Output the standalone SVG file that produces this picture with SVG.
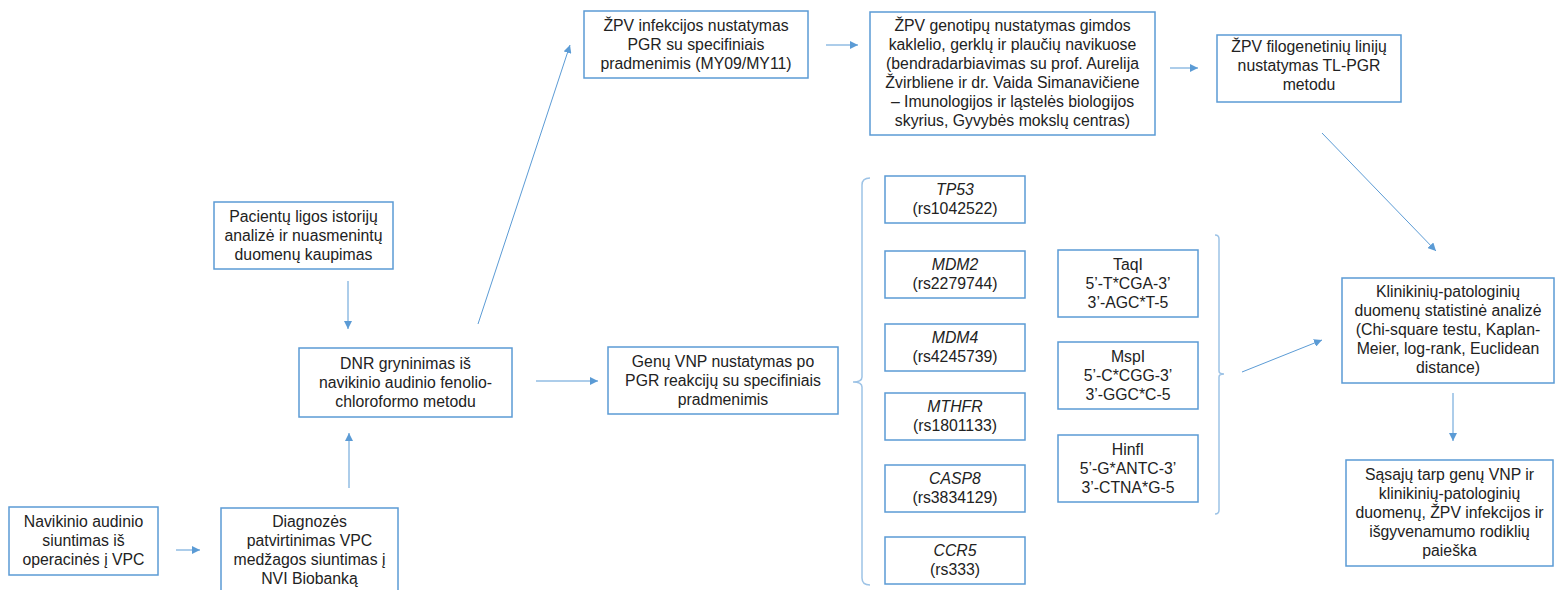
<svg xmlns="http://www.w3.org/2000/svg" width="1559" height="590" viewBox="0 0 1559 590">
<style>
.box{fill:#fff;stroke:#5b9bd5;stroke-width:1.5}
.t{font-family:"Liberation Sans",Arial,sans-serif;font-size:15.8px;fill:#222;text-anchor:middle}
.i{font-style:italic}
.c{fill:none;stroke:#5b9bd5;stroke-width:1}
.br{fill:none;stroke:#9dc3e6;stroke-width:1.5}
</style>
<defs>
<marker id="ah" viewBox="0 0 10 10" refX="10" refY="5" markerWidth="8" markerHeight="8" markerUnits="userSpaceOnUse" orient="auto">
<path d="M0,0 L10,5 L0,10 z" fill="#5b9bd5"/>
</marker>
</defs>
<rect width="1559" height="590" fill="#fff"/>

<g id="connectors">
<line class="c" x1="176" y1="550" x2="200" y2="550" marker-end="url(#ah)"/>
<line class="c" x1="349" y1="488" x2="349" y2="433" marker-end="url(#ah)"/>
<line class="c" x1="348" y1="281" x2="348" y2="329" marker-end="url(#ah)"/>
<line class="c" x1="478" y1="324" x2="570" y2="45" marker-end="url(#ah)"/>
<line class="c" x1="536" y1="381" x2="598" y2="381" marker-end="url(#ah)"/>
<line class="c" x1="826" y1="45" x2="858" y2="45" marker-end="url(#ah)"/>
<line class="c" x1="1170" y1="68" x2="1198" y2="68" marker-end="url(#ah)"/>
<line class="c" x1="1322" y1="133" x2="1436" y2="251" marker-end="url(#ah)"/>
<line class="c" x1="1242" y1="372" x2="1322" y2="340" marker-end="url(#ah)"/>
<line class="c" x1="1453" y1="393" x2="1453" y2="441" marker-end="url(#ah)"/>
<path class="br" d="M870,178 Q862,178 862,185 L862,377 Q862,382 853,382 Q862,382 862,387 L862,578 Q862,585 870,585"/>
<path class="br" d="M1215,235 Q1219,235 1219,239 L1219,371 Q1219,374 1224,374 Q1219,374 1219,377 L1219,510 Q1219,514 1215,514"/>
</g>

<g id="n1"><rect class="box" x="9" y="507" width="149" height="68"/>
<text class="t"><tspan x="83.5" y="527">Navikinio audinio</tspan><tspan x="83.5" y="546">siuntimas iš</tspan><tspan x="83.5" y="565">operacinės į VPC</tspan></text></g>

<g id="n2"><rect class="box" x="221" y="508" width="177" height="92"/>
<text class="t"><tspan x="309.5" y="527">Diagnozės</tspan><tspan x="309.5" y="546">patvirtinimas VPC</tspan><tspan x="309.5" y="565">medžagos siuntimas į</tspan><tspan x="309.5" y="584">NVI Biobanką</tspan></text></g>

<g id="n3"><rect class="box" x="214" y="202" width="179" height="67"/>
<text class="t"><tspan x="303.5" y="222">Pacientų ligos istorijų</tspan><tspan x="303.5" y="241">analizė ir nuasmenintų</tspan><tspan x="303.5" y="260">duomenų kaupimas</tspan></text></g>

<g id="n4"><rect class="box" x="299" y="348" width="213" height="69"/>
<text class="t"><tspan x="405.5" y="369">DNR gryninimas iš</tspan><tspan x="405.5" y="388">navikinio audinio fenolio-</tspan><tspan x="405.5" y="407">chloroformo metodu</tspan></text></g>

<g id="n5"><rect class="box" x="584" y="11" width="224" height="67"/>
<text class="t"><tspan x="696" y="31">ŽPV infekcijos nustatymas</tspan><tspan x="696" y="50">PGR su specifiniais</tspan><tspan x="696" y="69">pradmenimis (MY09/MY11)</tspan></text></g>

<g id="n6"><rect class="box" x="870" y="12" width="285" height="123"/>
<text class="t"><tspan x="1012.5" y="31">ŽPV genotipų nustatymas gimdos</tspan><tspan x="1012.5" y="50">kaklelio, gerklų ir plaučių navikuose</tspan><tspan x="1012.5" y="69">(bendradarbiavimas su prof. Aurelija</tspan><tspan x="1012.5" y="88">Žvirbliene ir dr. Vaida Simanavičiene</tspan><tspan x="1012.5" y="107">– Imunologijos ir ląstelės biologijos</tspan><tspan x="1012.5" y="126">skyrius, Gyvybės mokslų centras)</tspan></text></g>

<g id="n7"><rect class="box" x="1217" y="35" width="184" height="67"/>
<text class="t"><tspan x="1309" y="52">ŽPV filogenetinių linijų</tspan><tspan x="1309" y="71">nustatymas TL-PGR</tspan><tspan x="1309" y="90">metodu</tspan></text></g>

<g id="n8"><rect class="box" x="608" y="347" width="230" height="67"/>
<text class="t"><tspan x="723" y="367">Genų VNP nustatymas po</tspan><tspan x="723" y="386">PGR reakcijų su specifiniais</tspan><tspan x="723" y="405">pradmenimis</tspan></text></g>

<g id="g1"><rect class="box" x="885" y="176" width="140" height="47"/>
<text class="t"><tspan class="i" x="955" y="195">TP53</tspan><tspan x="955" y="214">(rs1042522)</tspan></text></g>
<g id="g2"><rect class="box" x="885" y="251" width="140" height="47"/>
<text class="t"><tspan class="i" x="955" y="270">MDM2</tspan><tspan x="955" y="289">(rs2279744)</tspan></text></g>
<g id="g3"><rect class="box" x="885" y="324" width="140" height="47"/>
<text class="t"><tspan class="i" x="955" y="343">MDM4</tspan><tspan x="955" y="362">(rs4245739)</tspan></text></g>
<g id="g4"><rect class="box" x="885" y="393" width="140" height="47"/>
<text class="t"><tspan class="i" x="955" y="412">MTHFR</tspan><tspan x="955" y="431">(rs1801133)</tspan></text></g>
<g id="g5"><rect class="box" x="885" y="465" width="140" height="47"/>
<text class="t"><tspan class="i" x="955" y="484">CASP8</tspan><tspan x="955" y="503">(rs3834129)</tspan></text></g>
<g id="g6"><rect class="box" x="885" y="537" width="140" height="47"/>
<text class="t"><tspan class="i" x="955" y="556">CCR5</tspan><tspan x="955" y="575">(rs333)</tspan></text></g>

<g id="e1"><rect class="box" x="1058" y="250" width="140" height="67"/>
<text class="t"><tspan x="1128" y="270">TaqI</tspan><tspan x="1128" y="289">5’-T*CGA-3’</tspan><tspan x="1128" y="308">3’-AGC*T-5</tspan></text></g>
<g id="e2"><rect class="box" x="1058" y="342" width="140" height="67"/>
<text class="t"><tspan x="1128" y="362">MspI</tspan><tspan x="1128" y="381">5’-C*CGG-3’</tspan><tspan x="1128" y="400">3’-GGC*C-5</tspan></text></g>
<g id="e3"><rect class="box" x="1058" y="435" width="140" height="67"/>
<text class="t"><tspan x="1128" y="455">HinfI</tspan><tspan x="1128" y="474">5’-G*ANTC-3’</tspan><tspan x="1128" y="493">3’-CTNA*G-5</tspan></text></g>

<g id="n9"><rect class="box" x="1342" y="278" width="212" height="105"/>
<text class="t"><tspan x="1448" y="297">Klinikinių-patologinių</tspan><tspan x="1448" y="316">duomenų statistinė analizė</tspan><tspan x="1448" y="335">(Chi-square testu, Kaplan-</tspan><tspan x="1448" y="354">Meier, log-rank, Euclidean</tspan><tspan x="1448" y="373">distance)</tspan></text></g>

<g id="n10"><rect class="box" x="1346" y="460" width="207" height="106"/>
<text class="t"><tspan x="1449.5" y="480">Sąsajų tarp genų VNP ir</tspan><tspan x="1449.5" y="499">klinikinių-patologinių</tspan><tspan x="1449.5" y="518">duomenų, ŽPV infekcijos ir</tspan><tspan x="1449.5" y="537">išgyvenamumo rodiklių</tspan><tspan x="1449.5" y="556">paieška</tspan></text></g>
</svg>
